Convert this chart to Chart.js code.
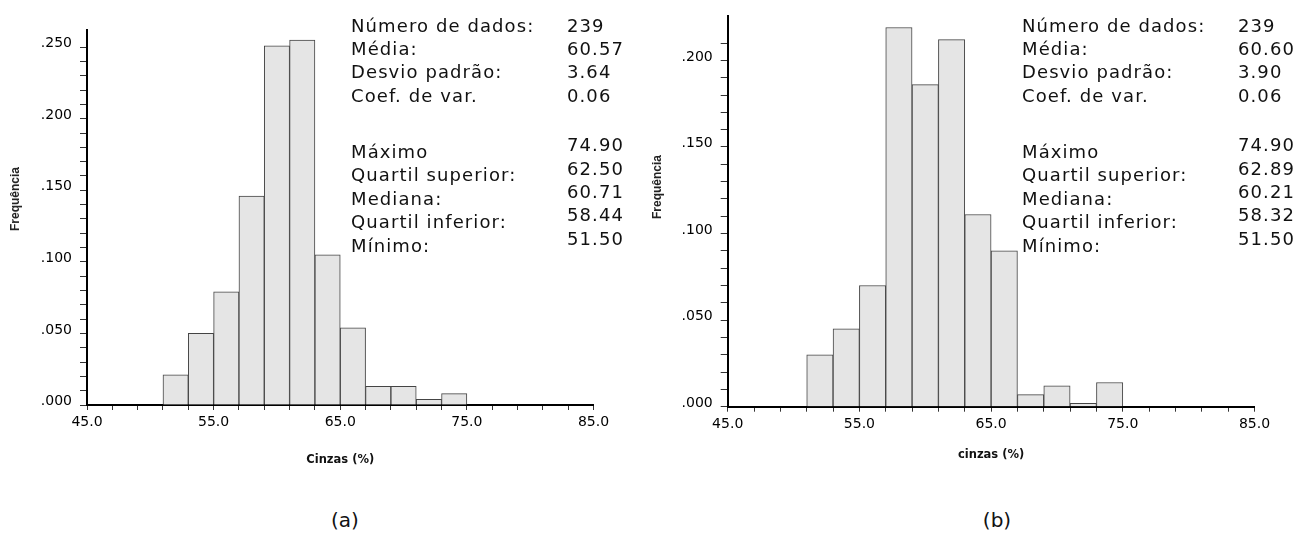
<!DOCTYPE html>
<html>
<head>
<meta charset="utf-8">
<script src="https://cdn.jsdelivr.net/npm/chart.js@4.4.1/dist/chart.umd.min.js"></script>
<style>
  body { margin: 0; background: #fff; }
  #wrap { position: relative; width: 1300px; height: 536px; overflow: hidden; }
  canvas { position: absolute; top: 0; }
  .stats { position: absolute; font-family: "DejaVu Sans", sans-serif; font-size: 18px;
           letter-spacing: 1.1px; line-height: 23.4px; color: #111; white-space: nowrap; }
  .stats .row { position: relative; height: 23.4px; }
  .stats .val { position: absolute; }
  .stats .up { top: -6.7px; }
  .ytitle { position: absolute; font-family: "Liberation Sans", Arial, sans-serif; font-weight: bold;
            font-size: 12px; color: #222; transform: translate(-50%, -50%) rotate(-90deg); white-space: nowrap; }
  .caption { position: absolute; font-family: "DejaVu Sans", sans-serif; font-size: 20px; color: #111;
             transform: translate(-50%, -50%); }
</style>
</head>
<body>
<div id="wrap">
  <canvas id="histA" width="650" height="480" style="left:0"></canvas>
  <canvas id="histB" width="650" height="480" style="left:650px"></canvas>
</div>
<script>
// histogram bins (2 % wide), bar placed at the bin centre
const binCenters = [52, 54, 56, 58, 60, 62, 64, 66, 68, 70, 72, 74];
const freqA = [0.021, 0.050, 0.079, 0.146, 0.251, 0.255, 0.105, 0.054, 0.013, 0.013, 0.004, 0.008];
const freqB = [0.030, 0.045, 0.070, 0.219, 0.186, 0.212, 0.111, 0.090, 0.007, 0.012, 0.002, 0.014];

const xMajorTicks = [45, 55, 65, 75, 85];
const yMajorTicks = [0, 0.05, 0.10, 0.15, 0.20, 0.25];

const statLabels = ['Número de dados:', 'Média:', 'Desvio padrão:', 'Coef. de var.'];
const quantLabels = ['Máximo', 'Quartil superior:', 'Mediana:', 'Quartil inferior:', 'Mínimo:'];
const statsA = ['239', '60.57', '3.64', '0.06'];
const quantsA = ['74.90', '62.50', '60.71', '58.44', '51.50'];
const statsB = ['239', '60.60', '3.90', '0.06'];
const quantsB = ['74.90', '62.89', '60.21', '58.32', '51.50'];

const tickFont = { family: 'DejaVu Sans', size: 14 };

function isMajor(v, list) {
  return list.some(m => Math.abs(m - v) < 1e-6);
}

function histogram(id, freq, o) {
  return new Chart(document.getElementById(id), {
    type: 'bar',
    data: {
      datasets: [{
        data: binCenters.map((c, i) => ({ x: c, y: freq[i] })),
        backgroundColor: '#e5e5e5',
        borderColor: '#444',
        borderWidth: 1,
        barPercentage: 1,
        categoryPercentage: 1
      }]
    },
    options: {
      responsive: false,
      animation: false,
      layout: { padding: o.padding },
      plugins: { legend: { display: false }, tooltip: { enabled: false } },
      scales: {
        x: {
          type: 'linear', min: 45, max: 85, offset: false,
          grid: { offset: false, drawOnChartArea: false, tickLength: 5, color: '#333' },
          border: { color: '#000', width: 2 },
          ticks: {
            stepSize: 2, autoSkip: false, maxRotation: 0, padding: 4, color: '#000', font: tickFont,
            callback: v => isMajor(v, xMajorTicks) ? v.toFixed(1) : ''
          },
          title: {
            display: true, text: o.xTitle, color: '#111',
            font: { family: 'DejaVu Sans', size: 11.5, weight: 'bold' },
            padding: { top: 0, bottom: 2 }
          },
          afterFit: s => { s.height = o.xAxisHeight; }
        },
        y: {
          min: 0, max: o.yMax,
          grid: { drawOnChartArea: false, tickLength: 7, color: '#333' },
          border: { color: '#000', width: 2 },
          ticks: {
            stepSize: 0.01, autoSkip: false, padding: 8, labelOffset: -3.5, color: '#000', font: tickFont,
            callback: v => isMajor(v, yMajorTicks) ? v.toFixed(3).replace(/^0/, '') : ''
          },
          afterBuildTicks: s => { s.ticks = s.ticks.filter(t => t.value <= o.yTop + 1e-9); },
          afterFit: s => { s.width = o.yAxisWidth; }
        }
      }
    }
  });
}

histogram('histA', freqA, {
  padding: { left: 0, top: 30, right: 56.5, bottom: 11.4 },
  yAxisWidth: 87, xAxisHeight: 63.6, yMax: 0.262, yTop: 0.26, xTitle: 'Cinzas (%)'
});
histogram('histB', freqB, {
  padding: { left: 0, top: 16, right: 45.5, bottom: 16.4 },
  yAxisWidth: 77.7, xAxisHeight: 56.9, yMax: 0.2254, yTop: 0.22, xTitle: 'cinzas (%)'
});

// summary statistics next to each histogram
function statsBlock(left, values, quants) {
  const wrap = document.getElementById('wrap');
  const add = (top, labels, vals, raise) => {
    const box = document.createElement('div');
    box.className = 'stats';
    box.style.left = left + 'px';
    box.style.top = top + 'px';
    labels.forEach((lab, i) => {
      const row = document.createElement('div');
      row.className = 'row';
      const l = document.createElement('span');
      l.textContent = lab;
      const v = document.createElement('span');
      v.className = 'val' + (raise ? ' up' : '');
      v.style.left = '216px';
      v.textContent = vals[i];
      row.appendChild(l);
      row.appendChild(v);
      box.appendChild(row);
    });
    wrap.appendChild(box);
  };
  add(13.5, statLabels, values, false);
  add(140, quantLabels, quants, true);
}
statsBlock(351, statsA, quantsA);
statsBlock(1022, statsB, quantsB);

function textAt(cls, txt, x, y) {
  const d = document.createElement('div');
  d.className = cls;
  d.textContent = txt;
  d.style.left = x + 'px';
  d.style.top = y + 'px';
  document.getElementById('wrap').appendChild(d);
}
textAt('ytitle', 'Frequência', 15, 199);
textAt('ytitle', 'Frequência', 657, 187);
textAt('caption', '(a)', 345, 520);
textAt('caption', '(b)', 997, 520);
</script>
</body>
</html>
